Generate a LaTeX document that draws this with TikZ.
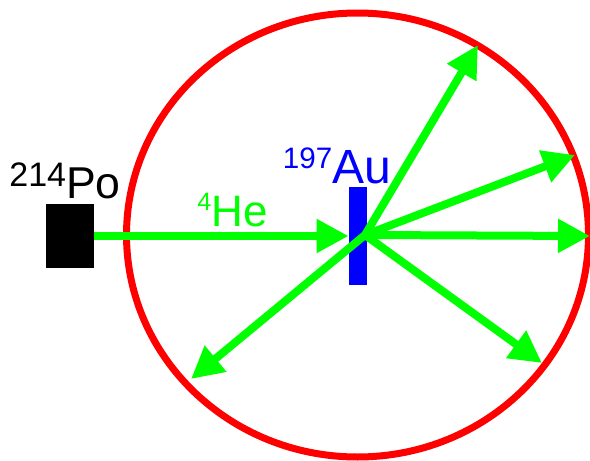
\documentclass[tikz,border=0pt]{standalone}
\usepackage{fontspec}
\setmainfont{Liberation Sans}
\usetikzlibrary{positioning,arrows.meta}
\newcommand{\massno}[3]{\raisebox{#3}{\fontsize{#2}{#2}\selectfont #1}}

\begin{document}
\begin{tikzpicture}[
x=0.5pt, y=-0.5pt,
ring/.style={draw=red, line width=3.5pt},
ray/.style={-{Triangle[length=16pt, width=16pt]}, line width=4pt, green},
source/.style={fill=black, minimum width=24pt, minimum height=32pt, inner sep=0pt},
foil/.style={fill=blue, minimum width=9pt, minimum height=49pt, inner sep=0pt},
tag/.style={anchor=base, inner sep=0pt}
]
\useasboundingbox (0,0) rectangle (590,461);
\draw[ring] (357.5,235) ellipse [x radius=231, y radius=222];
\node[source] (po) at (70,236) {};
\node[foil] (au) at (358,236) {};
\node[tag, font=\fontsize{22.3}{24}\selectfont] (polabel) at (65,198) {\massno{214}{17}{6pt}Po};
\node[tag, font=\fontsize{24}{26}\selectfont, blue] (aulabel) at (337,183) {\massno{197}{14.8}{7.5pt}Au};
\node[tag, font=\fontsize{22}{24}\selectfont, green] (helabel) at (232.5,226) {\massno{4}{12.6}{8pt}He};
% scattering directions
\coordinate (hit) at (365,235);
\coordinate (d1) at (478,45);
\coordinate (d2) at (575,155);
\coordinate (d3) at (590,236);
\coordinate (d4) at (542,363);
\coordinate (d5) at (191,379);
\draw[ray] (po) -- (au.west);
\foreach \d in {d1,d2,d3,d4,d5}
  \draw[ray] (hit) -- (\d);
\end{tikzpicture}
\end{document}
